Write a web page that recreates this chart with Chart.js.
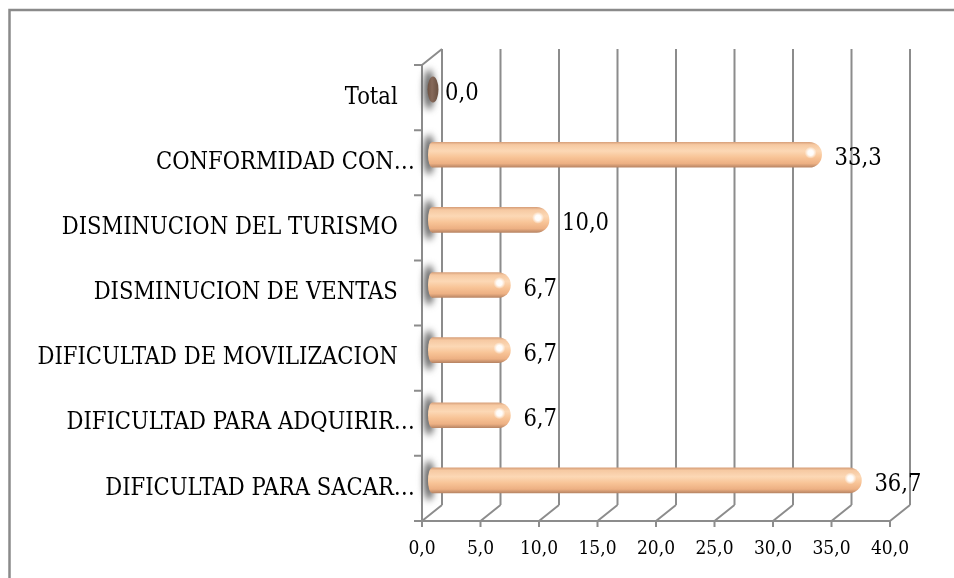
<!DOCTYPE html>
<html><head><meta charset="utf-8">
<script src="https://cdn.jsdelivr.net/npm/chart.js@4/dist/chart.umd.min.js"></script>
<style>html,body{margin:0;padding:0;background:#fff;overflow:hidden}canvas{display:block}</style>
</head><body>
<canvas id="c" width="954" height="578"></canvas>
<script>
const categories = ['Total', 'CONFORMIDAD CON…', 'DISMINUCION DEL TURISMO', 'DISMINUCION DE VENTAS', 'DIFICULTAD DE MOVILIZACION', 'DIFICULTAD PARA ADQUIRIR…', 'DIFICULTAD PARA SACAR…'];
const values = [0.0, 33.3, 10.0, 6.7, 6.7, 6.7, 36.7];
const xTickLabels = ['0,0', '5,0', '10,0', '15,0', '20,0', '25,0', '30,0', '35,0', '40,0'];

const DEPTH_X = 20, DEPTH_Y = -16;
const LINE = '#8c8c8c';
const FONT = '"DejaVu Serif Condensed", "DejaVu Serif", serif';

function fmt(v) { return v.toFixed(1).replace('.', ','); }

function barGradient(ctx, y, h) {
  const g = ctx.createLinearGradient(0, y - h / 2, 0, y + h / 2);
  g.addColorStop(0, '#D9A27C');
  g.addColorStop(0.1, '#F6C9A2');
  g.addColorStop(0.35, '#FCD8B5');
  g.addColorStop(0.6, '#F8C497');
  g.addColorStop(0.85, '#EDB083');
  g.addColorStop(1, '#B98665');
  return g;
}

const frame3d = {
  id: 'frame3d',
  beforeDraw(chart) {
    const ctx = chart.ctx;
    ctx.save();
    ctx.strokeStyle = '#8a8a8a';
    ctx.lineWidth = 2.5;
    ctx.strokeRect(9.5, 10, 1000, 1000);
    ctx.restore();
  },
  beforeDatasetsDraw(chart) {
    const ctx = chart.ctx, xs = chart.scales.x, a = chart.chartArea;
    ctx.save();
    ctx.strokeStyle = LINE;
    ctx.lineWidth = 2;
    ctx.lineCap = 'butt';
    const ticks = xs.ticks.map(t => t.value);
    ctx.beginPath();
    ticks.forEach(v => {
      const px = xs.getPixelForValue(v);
      ctx.moveTo(px + DEPTH_X, a.top + DEPTH_Y);
      ctx.lineTo(px + DEPTH_X, a.bottom + DEPTH_Y);
      ctx.moveTo(px, a.bottom);
      ctx.lineTo(px + DEPTH_X, a.bottom + DEPTH_Y);
      ctx.moveTo(px, a.bottom);
      ctx.lineTo(px, a.bottom + 6);
    });
    ctx.moveTo(xs.getPixelForValue(ticks[0]) - 1, a.bottom);
    ctx.lineTo(xs.getPixelForValue(ticks[ticks.length - 1]) + 1, a.bottom);
    const x0 = xs.getPixelForValue(0);
    ctx.moveTo(x0, a.top);
    ctx.lineTo(x0, a.bottom);
    ctx.moveTo(x0, a.top);
    ctx.lineTo(x0 + DEPTH_X, a.top + DEPTH_Y);
    const n = categories.length;
    const band = (a.bottom - a.top) / n;
    for (let i = 0; i <= n; i++) {
      const y = a.top + band * i;
      ctx.moveTo(x0 - 8, y);
      ctx.lineTo(x0, y);
    }
    ctx.stroke();

    chart.getDatasetMeta(0).data.forEach((bar) => {
      const cx = x0 + DEPTH_X / 2 - 3, cy = bar.y + DEPTH_Y / 2;
      ctx.save();
      ctx.filter = 'blur(3.5px)';
      ctx.fillStyle = 'rgba(70,70,70,0.9)';
      ctx.beginPath();
      ctx.ellipse(cx, cy, 5, 20, 0, 0, Math.PI * 2);
      ctx.fill();
      ctx.restore();
    });
    ctx.restore();
    ctx.save();
    ctx.translate(DEPTH_X / 2, DEPTH_Y / 2);
  },
  afterDatasetsDraw(chart) {
    const ctx = chart.ctx, xs = chart.scales.x;
    const meta = chart.getDatasetMeta(0);
    meta.data.forEach((bar, i) => {
      const h = bar.height;
      if (values[i] > 0) {
        ctx.save();
        ctx.fillStyle = barGradient(ctx, bar.y, h);
        ctx.beginPath();
        ctx.ellipse(bar.base, bar.y, 4, h / 2, 0, 0, Math.PI * 2);
        ctx.fill();
        ctx.restore();
        const hx = bar.x - 11, hy = bar.y - 2;
        const rg = ctx.createRadialGradient(hx, hy, 0, hx, hy, 6);
        rg.addColorStop(0, 'rgba(255,255,255,1)');
        rg.addColorStop(0.45, 'rgba(255,255,255,0.95)');
        rg.addColorStop(1, 'rgba(255,255,255,0)');
        ctx.fillStyle = rg;
        ctx.beginPath();
        ctx.arc(hx, hy, 6, 0, Math.PI * 2);
        ctx.fill();
      } else {
        const g = ctx.createLinearGradient(bar.base - 5, 0, bar.base + 5, 0);
        g.addColorStop(0, '#6A5040');
        g.addColorStop(0.5, '#86695A');
        g.addColorStop(1, '#6F5546');
        ctx.fillStyle = g;
        ctx.beginPath();
        ctx.ellipse(bar.base + 1, bar.y, 5.5, 13, 0, 0, Math.PI * 2);
        ctx.fill();
      }
    });
    ctx.restore();
    ctx.save();
    ctx.font = '23.5px ' + FONT;
    ctx.fillStyle = '#000';
    ctx.textAlign = 'left';
    ctx.textBaseline = 'middle';
    meta.data.forEach((bar, i) => {
      const px = xs.getPixelForValue(values[i]);
      ctx.fillText(fmt(values[i]), px + 23, bar.y - 3.5);
    });
    ctx.restore();
  }
};

new Chart(document.getElementById('c'), {
  type: 'bar',
  data: {
    labels: categories,
    datasets: [{
      data: values,
      barThickness: 25,
      borderRadius: 13,
      borderSkipped: 'start',
      borderWidth: 0,
      backgroundColor: (c) => {
        const chart = c.chart;
        if (!chart.chartArea) return '#F7C195';
        const y = chart.scales.y.getPixelForValue(c.dataIndex);
        return barGradient(chart.ctx, y, 25);
      }
    }]
  },
  options: {
    indexAxis: 'y',
    responsive: false,
    animation: false,
    devicePixelRatio: 1,
    layout: { padding: { left: 0, top: 65, right: 64, bottom: 17 } },
    plugins: { legend: { display: false }, tooltip: { enabled: false } },
    scales: {
      y: {
        grid: { display: false, drawTicks: false },
        border: { display: false },
        ticks: {
          font: { family: FONT, size: 23.5 },
          color: '#000',
          padding: 7,
          autoSkip: false,
          callback: function (v, i) {
            const s = categories[i];
            return s.endsWith('…') ? s : s + '\u2002 ';
          }
        },
        afterFit: (s) => { s.width = 422; }
      },
      x: {
        min: 0, max: 40,
        grid: { display: false, drawTicks: false },
        border: { display: false },
        ticks: {
          stepSize: 5,
          font: { family: FONT, size: 19 },
          color: '#000',
          padding: 17,
          maxRotation: 0,
          callback: (v, i) => xTickLabels[i]
        },
        afterFit: (s) => { s.height = 40; }
      }
    }
  },
  plugins: [frame3d]
});
</script>
</body></html>
